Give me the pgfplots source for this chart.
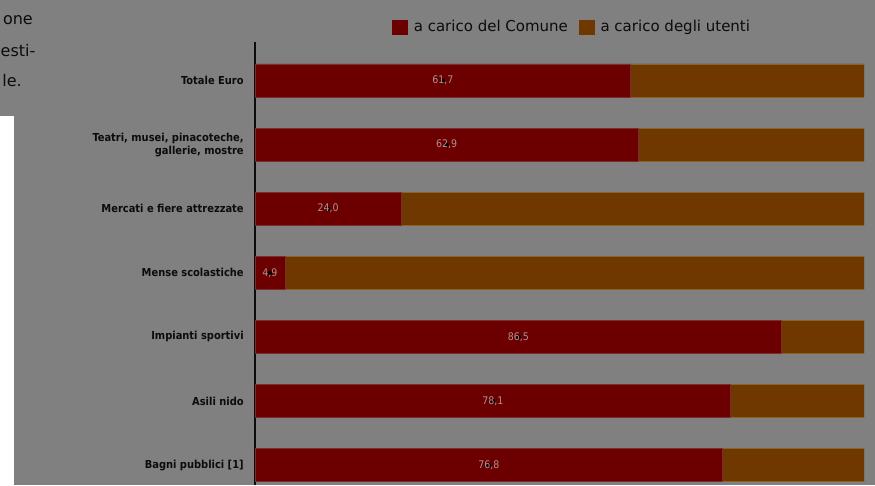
\documentclass[border=0pt]{standalone}
\usepackage{pgfplots}
\pgfplotsset{compat=1.18}
\usepackage{pgfplotstable}
\usepackage{fontspec}
\setmainfont{DejaVu Sans}
\newfontfamily\cond{DejaVu Sans Condensed}
\definecolor{bg}{RGB}{128,128,128}
\definecolor{cred}{RGB}{108,0,0}
\definecolor{credB}{RGB}{125,45,45}
\definecolor{cora}{RGB}{110,56,0}
\definecolor{coraB}{RGB}{140,100,40}
\definecolor{clab}{RGB}{175,145,145}
\definecolor{ink}{RGB}{12,12,12}
\pgfplotstableread{
idx com ute lab
0 61.7 38.3 61,7
1 62.9 37.1 62,9
2 24.0 76.0 24,0
3 4.9 95.1 4,9
4 86.5 13.5 86,5
5 78.1 21.9 78,1
6 76.8 23.2 76,8
}\data
\begin{document}
\begin{tikzpicture}
\fill[bg] (0,0) rectangle (875pt,-485pt);
\fill[white] (0,-116pt) rectangle (14pt,-485pt);
\begin{scope}[every node/.style={inner sep=0pt, text=ink, font=\fontsize{16}{18}\selectfont}]
\node[anchor=base east] at (33pt,-24pt) {one};
\node[anchor=base west] at (0.5pt,-56pt) {esti-};
\node[anchor=base east] at (22pt,-86pt) {le.};
\end{scope}
\begin{scope}
\clip (0,0) rectangle (875pt,-485pt);
\begin{axis}[
  at={(255pt,-42pt)}, anchor=north west,
  width=609pt, height=443pt, scale only axis,
  xbar stacked, bar width=33pt,
  xmin=0, xmax=100,
  ymin=-0.6, ymax=6.31, y dir=reverse,
  axis x line=none,
  axis y line=left,
  y axis line style={-, line width=1.8pt, draw=ink},
  ytick={0,...,6},
  yticklabels={Totale Euro, {Teatri, musei, pinacoteche,\\gallerie, mostre}, Mercati e fiere attrezzate, Mense scolastiche, Impianti sportivi, Asili nido, {Bagni pubblici [1]}},
  ytick style={draw=none},
  yticklabel style={align=right, inner sep=0pt, xshift=-9pt, text=ink, font=\cond\bfseries\fontsize{11}{13}\selectfont},
  legend style={at={(0.225,1)}, anchor=west, yshift=15pt, draw=none, fill=none,
    legend columns=2, inner sep=0pt, font=\fontsize{15}{17}\selectfont, text=ink,
    /tikz/every even column/.append style={column sep=9pt}},
]
\addplot[fill=cred, draw=credB, line width=0.6pt,
  legend image code/.code={\fill[cred] (0pt,-7pt) rectangle (15pt,7pt); \path (19pt,0pt);}]
  table[x=com, y=idx]{\data};
\addlegendentry{a carico del Comune}
\addplot[fill=cora, draw=coraB, line width=0.6pt,
  legend image code/.code={\fill[cora] (0pt,-7pt) rectangle (15pt,7pt); \path (19pt,0pt);}]
  table[x=ute, y=idx]{\data};
\addlegendentry{a carico degli utenti}
\end{axis}
\begin{axis}[
  at={(255pt,-42pt)}, anchor=north west,
  width=609pt, height=443pt, scale only axis,
  xmin=0, xmax=100,
  ymin=-0.6, ymax=6.31, y dir=reverse,
  hide axis,
]
\addplot[only marks, mark=*, mark options={draw=none, fill=none},
  nodes near coords, point meta=explicit symbolic,
  every node near coord/.append style={anchor=center, text=clab, font=\cond\fontsize{10.5}{12}\selectfont}]
  table[x expr=\thisrow{com}/2, y=idx, meta=lab]{\data};
\end{axis}
\end{scope}
\pgfresetboundingbox
\useasboundingbox (0,0) rectangle (875pt,-485pt);
\end{tikzpicture}
\end{document}
